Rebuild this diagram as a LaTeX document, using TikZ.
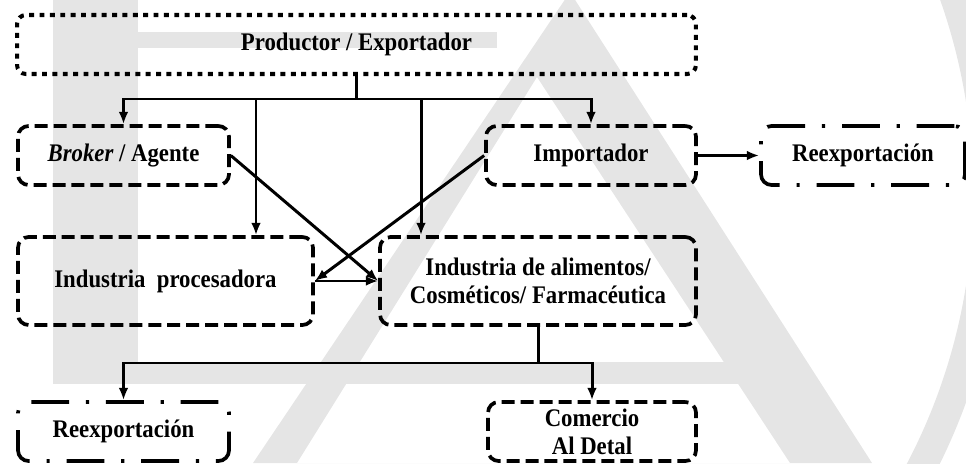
\documentclass[tikz,border=0pt]{standalone}
\usepackage{fontspec}
\setmainfont{Liberation Serif}[FakeStretch=0.9]
\usetikzlibrary{arrows.meta}
\definecolor{wmgray}{gray}{0.9}

\begin{document}
\begin{tikzpicture}[x=0.02cm,y=-0.02cm,
  every node/.style={font=\fontsize{14.4}{16}\selectfont\bfseries, align=center, inner sep=0pt},
  dotbox/.style={draw, line width=2.3pt, dash pattern=on 2.8pt off 3.1pt, rounded corners=5pt},
  dashbox/.style={draw, line width=2.1pt, dash pattern=on 7.4pt off 3.4pt, rounded corners=6pt},
  dashdotbox/.style={draw, line width=2.1pt, dash pattern=on 21.5pt off 9.6pt on 1.8pt off 9.6pt, rounded corners=6pt},
  link/.style={line width=1.7pt},
  arr/.style={link, -{Latex[length=7pt,width=5.5pt]}}]
\def\boxh{1.18cm}
\def\bigh{1.76cm}
\useasboundingbox (0,0) rectangle (966,463);
\begin{scope}
\clip (0,0) rectangle (966,463);
\fill[wmgray] (53,0) rectangle (138,384);
\fill[wmgray] (138,32) rectangle (497,48);
\fill[wmgray] (53,362) rectangle (745,384);
\fill[wmgray, even odd rule] (570,-8) -- (872,463) -- (253,463) -- cycle
  (537,77) -- (790,463) -- (297,463) -- cycle;
\fill[wmgray, even odd rule] (391.6,193.7) circle[radius=611] (391.6,193.7) circle[radius=581.6];
\end{scope}

\node[dotbox, minimum width=13.58cm, minimum height=\boxh] (prod) at (356.5,44.5) {Productor / Exportador};
\node[dashbox, minimum width=4.22cm, minimum height=\boxh] (broker) at (123.5,155.5) {{\itshape Broker} / Agente};
\node[dashbox, minimum width=4.2cm, minimum height=\boxh] (imp) at (591,155.5) {Importador};
\node[dashdotbox, minimum width=4.08cm, minimum height=\boxh] (reexpa) at (863,155.5) {Reexportación};
\node[dashbox, minimum width=5.9cm, minimum height=\bigh] (proc) at (165.5,281) {Industria\ \ procesadora};
\node[dashbox, minimum width=6.32cm, minimum height=\bigh] (alim) at (538,281) {Industria de alimentos/\\Cosméticos/ Farmacéutica};
\node[dashdotbox, minimum width=4.22cm, minimum height=\boxh] (reexpb) at (123.5,431.5) {Reexportación};
\node[dashbox, minimum width=4.16cm, minimum height=\boxh] (com) at (592,431.5) {Comercio\\Al Detal};

\coordinate (j1) at (356.5,99);
\coordinate (t1) at (256,99);
\coordinate (t2) at (421,99);
\coordinate (j2) at (538,363);
\draw[link] (prod.south) -- (j1);
\draw[arr] (j1) -| (broker.north);
\draw[arr] (j1) -| (imp.north);
\draw[arr] (t1) -- (t1 |- proc.north);
\draw[arr] (t2) -- (t2 |- alim.north);
\draw[arr] (broker.east) -- (alim.west);
\draw[arr] (imp.west) -- (proc.east);
\draw[arr] (proc.east) -- (alim.west);
\draw[arr] (imp.east) -- (reexpa.west);
\draw[link] (alim.south) -- (j2);
\draw[arr] (j2) -| (reexpb.north);
\draw[arr] (j2) -| (com.north);
\end{tikzpicture}
\end{document}
